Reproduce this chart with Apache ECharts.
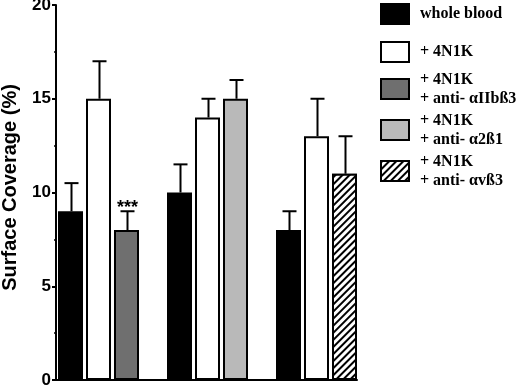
<!DOCTYPE html>
<html>
<head>
<meta charset="utf-8">
<script src="https://cdn.jsdelivr.net/npm/echarts@6/dist/echarts.min.js"></script>
<style>
  html, body { margin: 0; padding: 0; background: #fff; }
  #chart { width: 520px; height: 385px; }
</style>
</head>
<body>
<div id="chart"></div>
<script>
// groups along the x axis (no labels drawn)
const groups = ['1', '2', '3'];

// bar heights (mean) and upper error (SD) per group
const wholeBlood = [9, 10, 8];
const wholeBloodErr = [1.5, 1.5, 1];
const plus4N1K = [15, 14, 13];
const plus4N1KErr = [2, 1, 2];
const antiIIbb3 = [8, null, null];
const antiIIbb3Err = [1, null, null];
const anti21 = [null, 15, null];
const anti21Err = [null, 1, null];
const antiVb3 = [null, null, 11];
const antiVb3Err = [null, null, 2];
const sigMarks = ['***', '', ''];   // over the third bar of each group

const yTicks = [0, 5, 10, 15, 20];

const names = [
    'whole blood',
    '+ 4N1K',
    '+ 4N1K\n+ anti- αIIbß3',
    '+ 4N1K\n+ anti- α2ß1',
    '+ 4N1K\n+ anti- αvß3'
];

const BAR_W = 25;
const SLOT = 28;   // distance between bar centres in a group

const border = { borderColor: '#000', borderWidth: 2 };
const styles = [
    { color: '#000', borderColor: '#000', borderWidth: 2 },
    Object.assign({ color: '#fff' }, border),
    Object.assign({ color: '#6f6f6f' }, border),
    Object.assign({ color: '#b9b9b9' }, border),
    Object.assign({
        color: '#fff',
        decal: {
            symbol: 'rect',
            symbolSize: 1,
            dashArrayX: [1, 0],
            dashArrayY: [1.5, 3],
            rotation: -Math.PI / 4,
            color: '#000',
            backgroundColor: '#fff'
        }
    }, border)
];

const values = [wholeBlood, plus4N1K, antiIIbb3, anti21, antiVb3];
const errs = [wholeBloodErr, plus4N1KErr, antiIIbb3Err, anti21Err, antiVb3Err];
const slotOf = [0, 1, 2, 2, 2];

// error bar points: [group, mean, err, slot, mark]
const errData = [];
values.forEach(function (arr, s) {
    arr.forEach(function (v, g) {
        if (v == null) return;
        errData.push([g, v, errs[s][g], slotOf[s], slotOf[s] === 2 ? sigMarks[g] : '']);
    });
});

const barSeries = values.map(function (arr, s) {
    return {
        name: names[s],
        type: 'bar',
        xAxisIndex: 0,
        yAxisIndex: 0,
        stack: slotOf[s] === 2 ? 'anti' : undefined,
        barWidth: BAR_W,
        barGap: '12%',
        itemStyle: styles[s],
        emphasis: { disabled: true },
        data: arr.map(function (v) { return v == null ? '-' : v; })
    };
});

const errSeries = {
    type: 'custom',
    xAxisIndex: 0,
    yAxisIndex: 0,
    z: 5,
    silent: true,
    data: errData,
    renderItem: function (params, api) {
        const base = api.coord([api.value(0), api.value(1)]);
        const top = api.coord([api.value(0), api.value(1) + api.value(2)]);
        const x = Math.round(base[0] + (api.value(3) - 1) * SLOT) + 0.5;
        const ls = { stroke: '#000', lineWidth: 2 };
        const children = [
            { type: 'line', shape: { x1: x, y1: base[1], x2: x, y2: top[1] }, style: ls },
            { type: 'line', shape: { x1: x - 7, y1: top[1], x2: x + 7, y2: top[1] }, style: ls }
        ];
        const mark = api.value(4);
        if (mark) {
            children.push({
                type: 'text',
                style: {
                    text: mark, x: x, y: top[1] - 3,
                    align: 'center', verticalAlign: 'middle',
                    font: 'bold 18px "Liberation Sans", Arial', fill: '#000'
                }
            });
        }
        return { type: 'group', children: children };
    }
};

const legendTops = [3, 41, 70, 111, 152];
const legends = names.map(function (n, i) {
    return {
        data: [n],
        orient: 'vertical',
        left: 380,
        top: legendTops[i],
        padding: 0,
        icon: 'rect',
        itemWidth: 28,
        itemHeight: 20,
        selectedMode: false,
        textStyle: {
            fontFamily: '"Liberation Serif", "Times New Roman", serif',
            fontWeight: 'bold',
            fontSize: 16,
            lineHeight: 19,
            color: '#000',
            padding: [0, 0, 0, 6]
        }
    };
});

const myChart = echarts.init(document.getElementById('chart'), null, { renderer: 'canvas' });
const option = {
    animation: false,
    backgroundColor: '#fff',
    legend: legends,
    grid: [
        // bars: category bands start left of the drawn axis
        { left: 44, right: 149, top: 5, bottom: 5, containLabel: false, outerBoundsMode: 'none' },
        // drawn axes
        { left: 56, right: 163, top: 5, bottom: 5, containLabel: false, outerBoundsMode: 'none' }
    ],
    xAxis: [
        { type: 'category', gridIndex: 0, data: groups, show: false },
        {
            type: 'category', gridIndex: 1, data: groups,
            axisLine: { show: true, lineStyle: { color: '#000', width: 2 } },
            axisTick: { show: false },
            axisLabel: { show: false },
            splitLine: { show: false }
        }
    ],
    yAxis: [
        { type: 'value', gridIndex: 0, min: 0, max: 20, show: false },
        {
            type: 'value', gridIndex: 1, min: 0, max: 20, interval: 5,
            name: 'Surface Coverage (%)',
            nameLocation: 'middle',
            nameGap: 36,
            nameTextStyle: {
                fontFamily: '"Liberation Sans", Arial, sans-serif',
                fontWeight: 'bold', fontSize: 20, color: '#000',
                padding: [0, 0, 0, 10]
            },
            axisLine: { show: true, lineStyle: { color: '#000', width: 2 } },
            axisTick: { show: true, length: 4, lineStyle: { color: '#000', width: 2 } },
            minorTick: { show: true, splitNumber: 2, length: 2, lineStyle: { color: '#000', width: 1.5 } },
            splitLine: { show: false },
            axisLabel: {
                margin: 5,
                fontFamily: '"Liberation Sans", Arial, sans-serif',
                fontWeight: 'bold', fontSize: 17, color: '#000',
                formatter: function (v) { return yTicks.indexOf(v) >= 0 ? String(v) : ''; }
            }
        }
    ],
    series: barSeries.concat([errSeries])
};
myChart.setOption(option);
</script>
</body>
</html>
